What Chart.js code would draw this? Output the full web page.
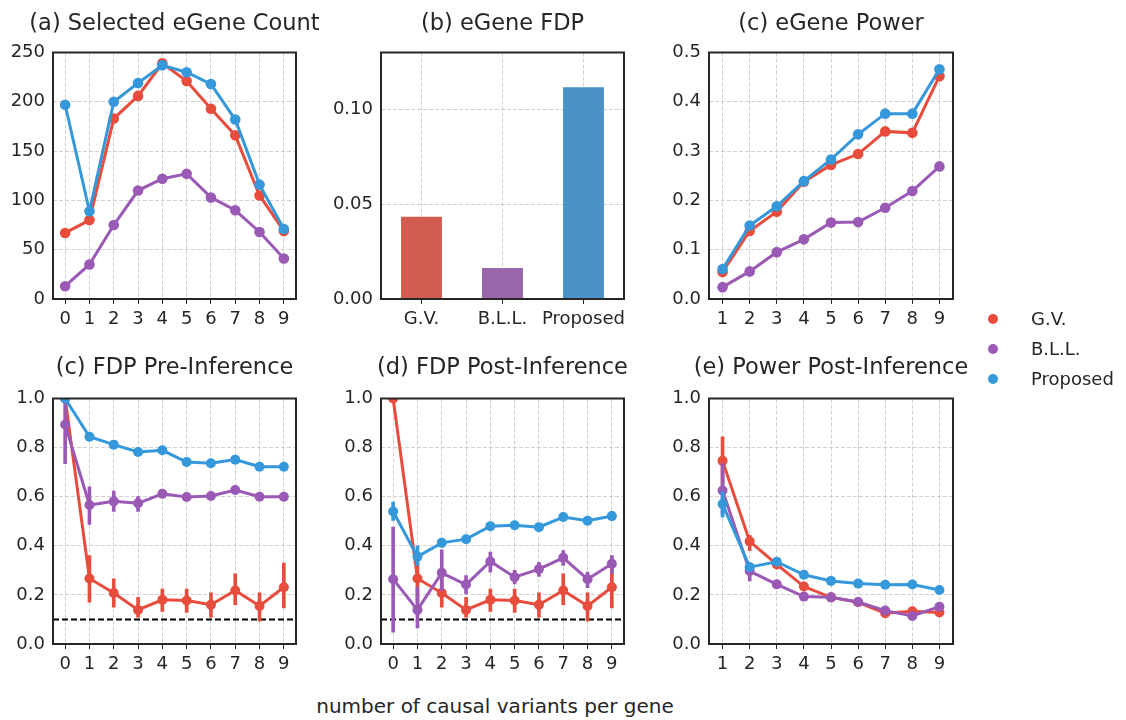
<!DOCTYPE html>
<html>
<head>
<meta charset="utf-8">
<script src="https://cdn.jsdelivr.net/npm/chart.js@4.4.0/dist/chart.umd.min.js"></script>
<style>
  html, body { margin: 0; padding: 0; background: #ffffff; }
  #wrap { position: relative; width: 1126px; height: 720px; overflow: hidden; font-family: 'DejaVu Sans', sans-serif; color: #262626; }
  canvas { position: absolute; }
  .leg-dot { position: absolute; width: 10px; height: 10px; border-radius: 50%; }
  .leg-txt { position: absolute; font-size: 18px; line-height: 20px; white-space: nowrap; }
  #xlabel { position: absolute; left: 195px; width: 600px; top: 694px; text-align: center; font-size: 20px; line-height: 24px; white-space: nowrap; }
</style>
</head>
<body>
<div id="wrap">
  <canvas id="pA"></canvas>
  <canvas id="pB"></canvas>
  <canvas id="pC"></canvas>
  <canvas id="pD"></canvas>
  <canvas id="pE"></canvas>
  <canvas id="pF"></canvas>
  <div id="legend"></div>
  <div id="xlabel">number of causal variants per gene</div>
</div>
<script>
// ---------------- data ----------------
const seriesNames = ['G.V.', 'B.L.L.', 'Proposed'];
const xFrom0 = ['0', '1', '2', '3', '4', '5', '6', '7', '8', '9'];
const xFrom1 = ['1', '2', '3', '4', '5', '6', '7', '8', '9'];

// (a) Selected eGene Count
const countGV   = [67, 80, 183, 206, 239, 221, 193, 166, 105, 69];
const countBLL  = [13, 35, 75, 110, 122, 127, 103, 90, 68, 41];
const countProp = [197, 89, 200, 219, 237, 230, 218, 182, 116, 71];

// (b) eGene FDP
const fdpBars = [0.0434, 0.0164, 0.1117];

// (c) eGene Power
const powerGV   = [0.055, 0.138, 0.177, 0.238, 0.272, 0.294, 0.340, 0.337, 0.452];
const powerBLL  = [0.024, 0.056, 0.095, 0.121, 0.155, 0.156, 0.185, 0.219, 0.269];
const powerProp = [0.061, 0.149, 0.188, 0.239, 0.283, 0.334, 0.376, 0.376, 0.466];

// (c) FDP Pre-Inference
const preGV     = [1.0, 0.267, 0.208, 0.139, 0.180, 0.177, 0.160, 0.218, 0.155, 0.231];
const preGVCI   = [[1.0, 1.0], [0.17, 0.36], [0.15, 0.265], [0.109, 0.19], [0.133, 0.224], [0.129, 0.224], [0.109, 0.208], [0.16, 0.286], [0.093, 0.208], [0.147, 0.33]];
const preBLL    = [0.894, 0.566, 0.581, 0.573, 0.612, 0.599, 0.603, 0.627, 0.600, 0.600];
const preBLLCI  = [[0.735, 0.98], [0.487, 0.64], [0.54, 0.623], [0.54, 0.60], [0.595, 0.628], [0.585, 0.612], [0.588, 0.617], [0.612, 0.642], [0.588, 0.612], [0.588, 0.612]];
const preProp   = [1.0, 0.844, 0.812, 0.782, 0.789, 0.741, 0.736, 0.751, 0.722, 0.722];
const prePropCI = [[1.0, 1.0], [0.832, 0.856], [0.80, 0.824], [0.772, 0.792], [0.779, 0.80], [0.731, 0.751], [0.726, 0.746], [0.741, 0.761], [0.712, 0.732], [0.712, 0.732]];

// (d) FDP Post-Inference
const postGV     = [1.0, 0.267, 0.208, 0.139, 0.180, 0.177, 0.160, 0.218, 0.155, 0.231];
const postGVCI   = [[1.0, 1.0], [0.17, 0.36], [0.15, 0.265], [0.109, 0.19], [0.133, 0.224], [0.129, 0.224], [0.109, 0.208], [0.16, 0.286], [0.093, 0.208], [0.147, 0.33]];
const postBLL    = [0.264, 0.139, 0.290, 0.242, 0.336, 0.272, 0.305, 0.351, 0.264, 0.327];
const postBLLCI  = [[0.048, 0.476], [0.065, 0.231], [0.218, 0.384], [0.204, 0.279], [0.293, 0.374], [0.245, 0.30], [0.275, 0.333], [0.32, 0.381], [0.229, 0.293], [0.286, 0.36]];
const postProp   = [0.540, 0.356, 0.412, 0.427, 0.480, 0.484, 0.476, 0.517, 0.502, 0.521];
const postPropCI = [[0.503, 0.578], [0.32, 0.40], [0.395, 0.43], [0.415, 0.44], [0.468, 0.492], [0.472, 0.496], [0.464, 0.488], [0.505, 0.529], [0.49, 0.514], [0.505, 0.54]];

// (e) Power Post-Inference
const ppGV     = [0.746, 0.418, 0.324, 0.234, 0.190, 0.170, 0.125, 0.133, 0.128];
const ppGVCI   = [[0.65, 0.844], [0.38, 0.443], [0.31, 0.338], [0.222, 0.246], [0.18, 0.20], [0.16, 0.18], [0.115, 0.135], [0.123, 0.143], [0.118, 0.138]];
const ppBLL    = [0.625, 0.297, 0.243, 0.193, 0.190, 0.171, 0.136, 0.114, 0.152];
const ppBLLCI  = [[0.53, 0.735], [0.257, 0.32], [0.23, 0.256], [0.183, 0.203], [0.18, 0.20], [0.161, 0.181], [0.126, 0.146], [0.104, 0.124], [0.142, 0.162]];
const ppProp   = [0.570, 0.313, 0.335, 0.282, 0.257, 0.246, 0.241, 0.242, 0.220];
const ppPropCI = [[0.517, 0.62], [0.295, 0.33], [0.322, 0.348], [0.272, 0.292], [0.247, 0.267], [0.236, 0.256], [0.231, 0.251], [0.232, 0.252], [0.21, 0.23]];

const fdpTarget = 0.1;

// ---------------- style ----------------
const lineColors = ['#e74c3c', '#9b59b6', '#3498db'];
const barColors  = ['#d05d4f', '#9866a9', '#4a93c7'];
const FONT = "'DejaVu Sans', sans-serif";
const TXT = '#262626';
Chart.defaults.font.family = FONT;
Chart.defaults.color = TXT;

const framePlugin = {
  id: 'frame',
  afterDatasetsDraw(chart) {
    const a = chart.chartArea, ctx = chart.ctx;
    ctx.save();
    ctx.strokeStyle = '#262626';
    ctx.lineWidth = 2;
    ctx.setLineDash([]);
    ctx.strokeRect(a.left, a.top, a.right - a.left, a.bottom - a.top);
    ctx.restore();
  }
};
const thresholdPlugin = {
  id: 'threshold',
  beforeDatasetsDraw(chart, args, opts) {
    if (opts.value === undefined || opts.value === null) return;
    const a = chart.chartArea, ctx = chart.ctx;
    const y = chart.scales.y.getPixelForValue(opts.value);
    ctx.save();
    ctx.strokeStyle = '#000000';
    ctx.lineWidth = 2;
    ctx.setLineDash([6, 3]);
    ctx.beginPath();
    ctx.moveTo(a.left, y);
    ctx.lineTo(a.right, y);
    ctx.stroke();
    ctx.restore();
  }
};

const E = 50;      // horizontal margin each side of plot area
const HX = 40;     // x-axis height
const TITLE_SIZE = 22.5;

function placeCanvas(id, plotLeft, plotTop, plotW, plotH, titlePad) {
  const c = document.getElementById(id);
  const titleH = TITLE_SIZE * 1.2 + titlePad;
  const w = plotW + 2 * E;
  const h = Math.round(titleH + plotH + HX);
  c.width = w; c.height = h;
  c.style.left = (plotLeft - E) + 'px';
  c.style.top = (plotTop - titleH) + 'px';
  c.style.width = w + 'px'; c.style.height = h + 'px';
  return c;
}

function commonScales(yMin, yMax, step, dec) {
  return {
    x: {
      type: 'category',
      offset: true,
      grid: { offset: false, color: '#d0d0d0', lineWidth: 1, drawTicks: true, tickLength: 5, tickColor: '#262626', tickWidth: 1 },
      border: { display: false, dash: [4, 2] },
      ticks: { font: { size: 18 }, color: TXT, padding: 5, maxRotation: 0, autoSkip: false },
      afterFit(s) { s.height = HX; }
    },
    y: {
      type: 'linear',
      min: yMin, max: yMax,
      grid: { color: '#d0d0d0', lineWidth: 1, drawTicks: false },
      border: { display: false, dash: [4, 2] },
      ticks: { stepSize: step, font: { size: 18 }, color: TXT, padding: 8,
               callback: v => Number(v).toFixed(dec) },
      afterFit(s) { s.width = E; }
    },
    // empty spacer on the right so the title centres over the plot area
    yr: {
      type: 'linear', position: 'right',
      grid: { display: false, drawTicks: false },
      border: { display: false },
      ticks: { display: false },
      afterFit(s) { s.width = E; }
    }
  };
}

function seriesDatasets(values, cis, radius) {
  const ds = [];
  values.forEach((vals, i) => {
    const base = (3 - i) * 2;
    if (cis) {
      ds.push({
        type: 'bar', label: seriesNames[i] + ' CI', data: cis[i], yAxisID: 'y',
        backgroundColor: lineColors[i], borderWidth: 0, barThickness: 3,
        grouped: false, order: base, clip: 0
      });
    }
    ds.push({
      type: 'line', label: seriesNames[i], data: vals, yAxisID: 'y',
      borderColor: lineColors[i], backgroundColor: lineColors[i], borderWidth: 3,
      pointRadius: radius, pointHoverRadius: radius, pointBorderWidth: 0,
      pointBackgroundColor: lineColors[i], tension: 0, fill: false,
      order: base - 1, clip: 0
    });
  });
  return ds;
}

function titleOpts(text, pad) {
  return { display: true, text: text, color: TXT, font: { size: TITLE_SIZE, weight: 'normal' }, padding: { top: 0, bottom: pad } };
}

function linePanel(id, rect, titlePad, title, labels, values, cis, yMin, yMax, step, dec, radius, threshold) {
  const c = placeCanvas(id, rect[0], rect[1], rect[2], rect[3], titlePad);
  new Chart(c, {
    type: 'line',
    data: { labels: labels, datasets: seriesDatasets(values, cis, radius) },
    options: {
      responsive: false, animation: false, events: [],
      layout: { padding: 0 },
      scales: commonScales(yMin, yMax, step, dec),
      plugins: {
        legend: { display: false }, tooltip: { enabled: false },
        title: titleOpts(title, titlePad),
        threshold: { value: threshold }
      }
    },
    plugins: [framePlugin, thresholdPlugin]
  });
}

// plot-area rectangles [left, top, width, height]
const R1 = 52, R2 = 398, PH = 246;
const C1 = 53, C2 = 381, C3 = 709;

linePanel('pA', [C1, R1, 243, PH], 14.5, '(a) Selected eGene Count', xFrom0,
  [countGV, countBLL, countProp], null, 0, 250, 50, 0, 5.3, null);

// (b) bar chart
(function () {
  const c = placeCanvas('pB', C2, R1, 243, PH, 14.5);
  const sc = commonScales(0, 0.13, 0.05, 2);
  sc.y.afterBuildTicks = s => { s.ticks = s.ticks.filter(t => t.value <= 0.1000001); };
  new Chart(c, {
    type: 'bar',
    data: { labels: seriesNames, datasets: [{ label: 'eGene FDP', data: fdpBars, yAxisID: 'y', backgroundColor: barColors, borderWidth: 0, categoryPercentage: 1.0, barPercentage: 0.505 }] },
    options: {
      responsive: false, animation: false, events: [],
      layout: { padding: 0 },
      scales: sc,
      plugins: {
        legend: { display: false }, tooltip: { enabled: false },
        title: titleOpts('(b) eGene FDP', 14.5)
      }
    },
    plugins: [framePlugin]
  });
})();

linePanel('pC', [C3, R1, 244, PH], 14.5, '(c) eGene Power', xFrom1,
  [powerGV, powerBLL, powerProp], null, 0, 0.5, 0.1, 1, 5.3, null);

linePanel('pD', [C1, R2, 243, 245], 16.5, '(c) FDP Pre-Inference', xFrom0,
  [preGV, preBLL, preProp], [preGVCI, preBLLCI, prePropCI], 0, 1, 0.2, 1, 5, fdpTarget);

linePanel('pE', [C2, R2, 243, 245], 16.5, '(d) FDP Post-Inference', xFrom0,
  [postGV, postBLL, postProp], [postGVCI, postBLLCI, postPropCI], 0, 1, 0.2, 1, 5, fdpTarget);

linePanel('pF', [C3, R2, 244, 245], 16.5, '(e) Power Post-Inference', xFrom1,
  [ppGV, ppBLL, ppProp], [ppGVCI, ppBLLCI, ppPropCI], 0, 1, 0.2, 1, 5, null);

// legend
(function () {
  const leg = document.getElementById('legend');
  seriesNames.forEach((name, i) => {
    const d = document.createElement('div');
    d.className = 'leg-dot';
    d.style.left = '987.5px';
    d.style.top = (314.3 + 30 * i) + 'px';
    d.style.background = lineColors[i];
    leg.appendChild(d);
    const t = document.createElement('div');
    t.className = 'leg-txt';
    t.style.left = '1031px';
    t.style.top = (309.4 + 30 * i) + 'px';
    t.textContent = name;
    leg.appendChild(t);
  });
})();
</script>
</body>
</html>
